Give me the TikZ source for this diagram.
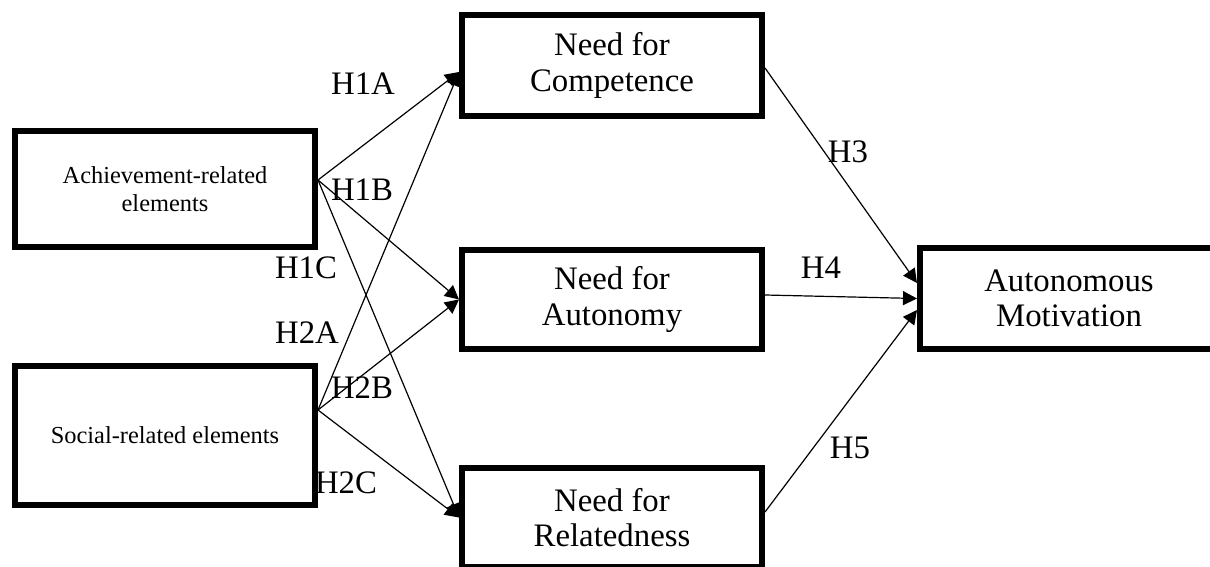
\documentclass[tikz,border=0pt]{standalone}
\usepackage{fontspec}
\setmainfont{Liberation Serif}
\usetikzlibrary{arrows.meta}
\begin{document}
\begin{tikzpicture}[x=0.5pt,y=-0.5pt,
  box/.style={draw=black,line width=3pt,fill=white,inner sep=0pt,align=center,
    font=\fontsize{16.4pt}{17.8pt}\selectfont},
  smallbox/.style={box,font=\fontsize{12.2pt}{14.2pt}\selectfont},
  conn/.style={line width=0.6pt,-{Triangle[length=7pt,width=7pt]}},
  hlab/.style={font=\fontsize{16.4pt}{17.8pt}\selectfont,inner sep=0pt}]
\useasboundingbox (0,0) rectangle (1210,567);
\node[smallbox,minimum width=150pt,minimum height=58pt] (ach) at (165,189) {Achievement-related\\elements};
\node[smallbox,minimum width=150pt,minimum height=69.5pt] (soc) at (165,435.5) {Social-related elements};
\node[box,minimum width=150pt,minimum height=50.5pt] (comp) at (612,65.5) {Need for\\Competence};
\node[box,minimum width=150pt,minimum height=49.5pt] (aut) at (612,299.5) {Need for\\Autonomy};
\node[box,minimum width=150pt,minimum height=49.5pt] (rel) at (612,517.5) {Need for\\Relatedness};
\node[box,minimum width=149pt,minimum height=50.5pt] (mot) at (1069,298.5) {Autonomous\\Motivation};
% connectors
\coordinate (a0) at ([yshift=4.5pt]ach.east);
\coordinate (s0) at ([yshift=12.75pt]soc.east);
\draw[conn] (a0) -- ([yshift=-3.25pt]comp.west);
\draw[conn] (a0) -- (aut.west);
\draw[conn] (a0) -- (rel.west);
\draw[conn] (s0) -- ([yshift=-3.25pt]comp.west);
\draw[conn] (s0) -- (aut.west);
\draw[conn] (s0) -- (rel.west);
\draw[conn] ([yshift=-1.25pt]comp.east) -- ([yshift=7.75pt]mot.west);
\draw[conn] ([yshift=2.25pt]aut.east) -- (mot.west);
\draw[conn] ([yshift=2.75pt]rel.east) -- ([yshift=-5.75pt]mot.west);
% labels
\node[hlab] (h1a) at (363,84) {H1A};
\node[hlab] (h1b) at (362,190) {H1B};
\node[hlab] (h1c) at (306,268) {H1C};
\node[hlab] (h2a) at (307,333) {H2A};
\node[hlab] (h2b) at (362,388) {H2B};
\node[hlab] (h2c) at (346,483) {H2C};
\node[hlab] (h3) at (848,152) {H3};
\node[hlab] (h4) at (821,268) {H4};
\node[hlab] (h5) at (850,448) {H5};
\end{tikzpicture}
\end{document}
